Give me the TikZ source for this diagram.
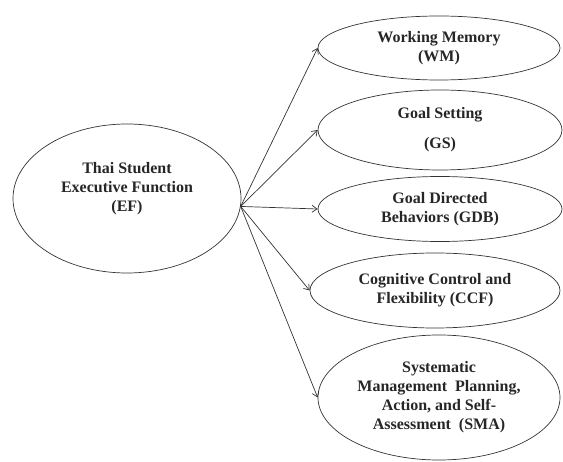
\documentclass[tikz,border=0pt]{standalone}
\usepackage{fontspec}
\setmainfont{Liberation Serif}
\usetikzlibrary{arrows.meta, shapes.geometric}

\begin{document}
\begin{tikzpicture}[
                x=1pt, y=-1pt,
                ->,
                >={Straight Barb[length=5pt,width=7pt]},
                line width=0.7pt, draw=black!80,
                every node/.style={ellipse, draw, inner sep=0pt, align=center, text=black!85,
                        font=\fontsize{16}{19}\selectfont\bfseries}
        ]
        \useasboundingbox (0,0) rectangle (563,462);
        \node [minimum width=228pt, minimum height=149pt] (ef) at (127,198.5) {Thai Student\\Executive Function\\(EF)\\[4pt]};
        \node [minimum width=242pt, minimum height=64pt] (wm) at (439,48) {Working Memory\\(WM)};
        \node [minimum width=244pt, minimum height=80pt] (gs) at (440,130) {Goal Setting\\[11pt](GS)};
        \node [minimum width=244pt, minimum height=65pt] (gdb) at (440,209) {Goal Directed\\Behaviors (GDB)};
        \node [minimum width=250pt, minimum height=75pt] (ccf) at (435,290.5) {Cognitive Control and\\Flexibility (CCF)};
        \node [minimum width=242pt, minimum height=125pt] (sma) at (439,397.5) {Systematic\\Management\ \ Planning,\\Action, and Self-\\Assessment\ \ (SMA)};
        \foreach \n in {wm,gs,gdb,ccf,sma}
                \draw (ef.-4) -- (\n.west);
\end{tikzpicture}
\end{document}
